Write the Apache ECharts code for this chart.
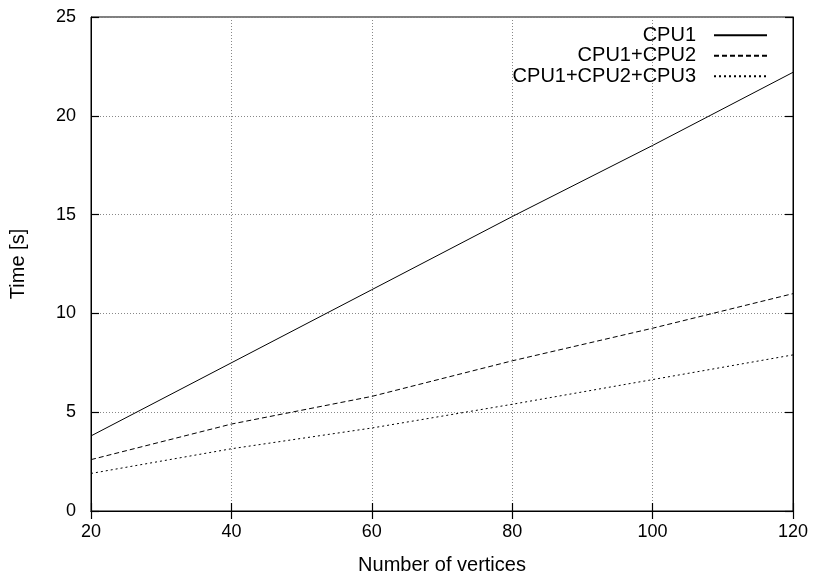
<!DOCTYPE html>
<html>
<head>
<meta charset="utf-8">
<script src="https://cdn.jsdelivr.net/npm/echarts@6/dist/echarts.min.js"></script>
<style>
html, body { margin: 0; padding: 0; background: #fff; }
#chart { width: 817px; height: 575px; }
</style>
</head>
<body>
<div id="chart"></div>
<script>
var vertices = [20, 40, 60, 80, 100, 120];
var cpu1 = [3.8, 7.5, 11.2, 14.9, 18.5, 22.2];
var cpu12 = [2.6, 4.4, 5.8, 7.6, 9.25, 11.0];
var cpu123 = [1.9, 3.15, 4.2, 5.4, 6.65, 7.9];
var seriesNames = ['CPU1', 'CPU1+CPU2', 'CPU1+CPU2+CPU3'];

function pairs(ys) {
	var out = [];
	for (var i = 0; i < vertices.length; i++) {
		out.push([vertices[i], ys[i]]);
	}
	return out;
}

var font = 'Liberation Sans, Arial, sans-serif';
var gridLine = { show: true, lineStyle: { color: '#888', type: [1, 2], width: 1 } };
var tickIn = { show: true, inside: true, length: 8, lineStyle: { color: '#000', width: 1.2 } };

var chart = echarts.init(document.getElementById('chart'));
var option = {
	animation: false,
	backgroundColor: '#fff',
	textStyle: { fontFamily: font },
	grid: {
		left: 91, right: 24, top: 17, bottom: 64,
		outerBoundsMode: 'none',
		containLabel: false,
		show: true, borderColor: '#000', borderWidth: 1
	},
	legend: {
		data: seriesNames,
		top: 25,
		right: 49,
		padding: 0,
		orient: 'vertical',
		align: 'right',
		itemWidth: 53,
		itemHeight: 20.5,
		itemGap: 0,
		itemStyle: { opacity: 0 },
		textStyle: { fontSize: 20, lineHeight: 20.5, color: '#000', fontFamily: font, padding: [0, 13, 0, 0] }
	},
	xAxis: [{
		type: 'value',
		min: 20, max: 120, interval: 20,
		name: 'Number of vertices',
		nameLocation: 'middle',
		nameGap: 44,
		nameTextStyle: { fontSize: 20, color: '#000' },
		axisLine: { show: true, onZero: false, lineStyle: { color: '#000' } },
		axisTick: tickIn,
		axisLabel: { fontSize: 18, color: '#000', margin: 12 },
		splitLine: gridLine
	}, {
		type: 'value', position: 'top',
		min: 20, max: 120, interval: 20,
		axisLine: { show: true, lineStyle: { color: '#000' } },
		axisTick: tickIn,
		axisLabel: { show: false },
		splitLine: { show: false }
	}],
	yAxis: [{
		type: 'value',
		min: 0, max: 25, interval: 5,
		name: 'Time [s]',
		nameLocation: 'middle',
		nameGap: 63,
		nameTextStyle: { fontSize: 20, color: '#000' },
		axisLine: { show: true, lineStyle: { color: '#000' } },
		axisTick: tickIn,
		axisLabel: { fontSize: 18, color: '#000', margin: 15 },
		splitLine: gridLine
	}, {
		type: 'value', position: 'right',
		min: 0, max: 25, interval: 5,
		axisLine: { show: true, lineStyle: { color: '#000' } },
		axisTick: tickIn,
		axisLabel: { show: false },
		splitLine: { show: false }
	}],
	series: [{
		name: seriesNames[0],
		type: 'line',
		data: pairs(cpu1),
		symbol: 'none',
		itemStyle: { color: '#000' },
		lineStyle: { color: '#000', width: 1, type: 'solid' }
	}, {
		name: seriesNames[1],
		type: 'line',
		data: pairs(cpu12),
		symbol: 'none',
		itemStyle: { color: '#000' },
		lineStyle: { color: '#000', width: 1, type: [5, 3] }
	}, {
		name: seriesNames[2],
		type: 'line',
		data: pairs(cpu123),
		symbol: 'none',
		itemStyle: { color: '#000' },
		lineStyle: { color: '#000', width: 1, type: [2, 3] }
	}]
};
chart.setOption(option);
</script>
</body>
</html>
